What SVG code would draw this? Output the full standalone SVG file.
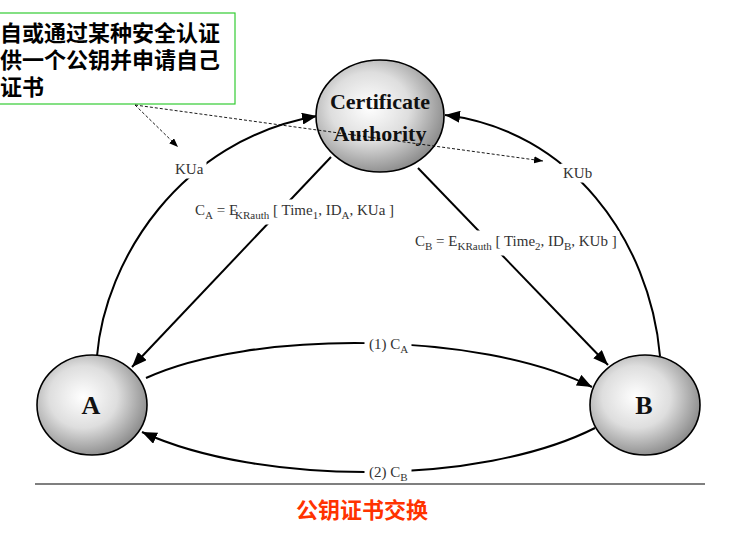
<svg xmlns="http://www.w3.org/2000/svg" width="738" height="535" viewBox="0 0 738 535">
  <style>
    .node { stroke: #000; stroke-width: 1.6; fill: url(#sphere); }
    .ntext { font-family: "Liberation Serif", serif; font-weight: bold; fill: #111; text-anchor: middle; }
    .conn { fill: none; stroke: #000; stroke-width: 2; }
    .dash { fill: none; stroke: #000; stroke-width: 0.9; stroke-dasharray: 3 2; }
    .lbl { font-family: "Liberation Serif", serif; font-size: 15px; fill: #333; }
    .bg { fill: #fff; stroke: #fff; stroke-width: 5; stroke-linejoin: round; }
    .sub { font-size: 11px; }
    .note { font-family: "Noto Sans CJK SC", sans-serif; font-weight: bold; font-size: 22px; fill: #000; }
    .title { font-family: "Noto Sans CJK SC", sans-serif; font-weight: bold; font-size: 22px; fill: #ff3300; text-anchor: middle; }
  </style>
  <defs>
    <radialGradient id="sphere" cx="0.42" cy="0.42" r="0.62">
      <stop offset="0" stop-color="#ffffff"/>
      <stop offset="0.5" stop-color="#dedede"/>
      <stop offset="1" stop-color="#888888"/>
    </radialGradient>
    <marker id="arr" markerUnits="userSpaceOnUse" markerWidth="16" markerHeight="12" refX="15" refY="6" orient="auto">
      <path d="M0,0 L15,6 L0,12 z" fill="#000"/>
    </marker>
    <marker id="arrs" markerUnits="userSpaceOnUse" markerWidth="10" markerHeight="8" refX="9" refY="3.5" orient="auto">
      <path d="M0,0 L9,3.5 L0,7 z" fill="#000"/>
    </marker>
  </defs>
  <rect width="738" height="535" fill="#fff"/>

  <g id="note">
    <rect x="-10" y="13" width="245" height="91" fill="#fff" stroke="#33cc33" stroke-width="1.2"/>
    <text class="note"><tspan x="0" y="41">自或通过某种安全认证</tspan><tspan x="0" y="68">供一个公钥并申请自己</tspan><tspan x="0" y="95">证书</tspan></text>
  </g>

  <g id="connectors">
    <path class="conn" d="M 97 356 C 105 260 180 140 317 116" marker-end="url(#arr)"/>
    <path class="conn" d="M 660 356 C 650 240 570 130 445 115" marker-end="url(#arr)"/>
    <path class="conn" d="M 331 157 L 132 367" marker-end="url(#arr)"/>
    <path class="conn" d="M 418 168 L 608 365" marker-end="url(#arr)"/>
    <path class="conn" d="M 146 378 C 250 330 480 330 592 387" marker-end="url(#arr)"/>
    <path class="conn" d="M 595 428 C 480 486 260 486 142 432" marker-end="url(#arr)"/>
    <g id="label-backgrounds">
      <rect class="bg" x="174" y="162" width="30" height="14"/>
      <rect class="bg" x="562" y="166" width="30" height="14"/>
      <rect class="bg" x="193" y="202" width="204" height="20"/>
      <rect class="bg" x="413" y="233" width="204" height="20"/>
      <rect class="bg" x="367" y="337" width="42" height="20"/>
      <rect class="bg" x="367" y="465" width="42" height="20"/>
    </g>
    <text class="lbl" x="175" y="174">KUa</text>
    <text class="lbl" x="563" y="178">KUb</text>
    <text class="lbl" x="195" y="215">C<tspan class="sub" dy="4">A</tspan><tspan dy="-4"> = E</tspan><tspan class="sub" dx="-3" dy="4">KRauth</tspan><tspan dy="-4"> [ Time</tspan><tspan class="sub" dy="4">1</tspan><tspan dy="-4">, ID</tspan><tspan class="sub" dy="4">A</tspan><tspan dy="-4">, KUa ]</tspan></text>
    <text class="lbl" x="415" y="246">C<tspan class="sub" dy="4">B</tspan><tspan dy="-4"> = E</tspan><tspan class="sub" dy="4">KRauth</tspan><tspan dy="-4"> [ Time</tspan><tspan class="sub" dy="4">2</tspan><tspan dy="-4">, ID</tspan><tspan class="sub" dy="4">B</tspan><tspan dy="-4">, KUb ]</tspan></text>
    <text class="lbl" x="369" y="349">(1) C<tspan class="sub" dy="4">A</tspan></text>
    <text class="lbl" x="369" y="477">(2) C<tspan class="sub" dy="4">B</tspan></text>
  </g>

  <g id="CA">
    <ellipse class="node" cx="380" cy="116" rx="64" ry="56"/>
    <text class="ntext" x="380" y="109" font-size="22">Certificate</text>
    <text class="ntext" x="380" y="141" font-size="22">Authority</text>
  </g>
  <g id="A">
    <ellipse class="node" cx="92" cy="405" rx="55" ry="50"/>
    <text class="ntext" x="91" y="414" font-size="26">A</text>
  </g>
  <g id="B">
    <ellipse class="node" cx="645" cy="405" rx="55" ry="50"/>
    <text class="ntext" x="644" y="414" font-size="26">B</text>
  </g>

  <g id="dashed-connectors">
    <path class="dash" d="M 135 105 L 178 147" marker-end="url(#arrs)"/>
    <path class="dash" d="M 135 105 L 543 161" marker-end="url(#arrs)"/>
  </g>

  <g id="footer">
    <line x1="35" y1="484" x2="705" y2="484" stroke="#000" stroke-width="1.2"/>
    <text class="title" x="362" y="518">公钥证书交换</text>
  </g>
</svg>
